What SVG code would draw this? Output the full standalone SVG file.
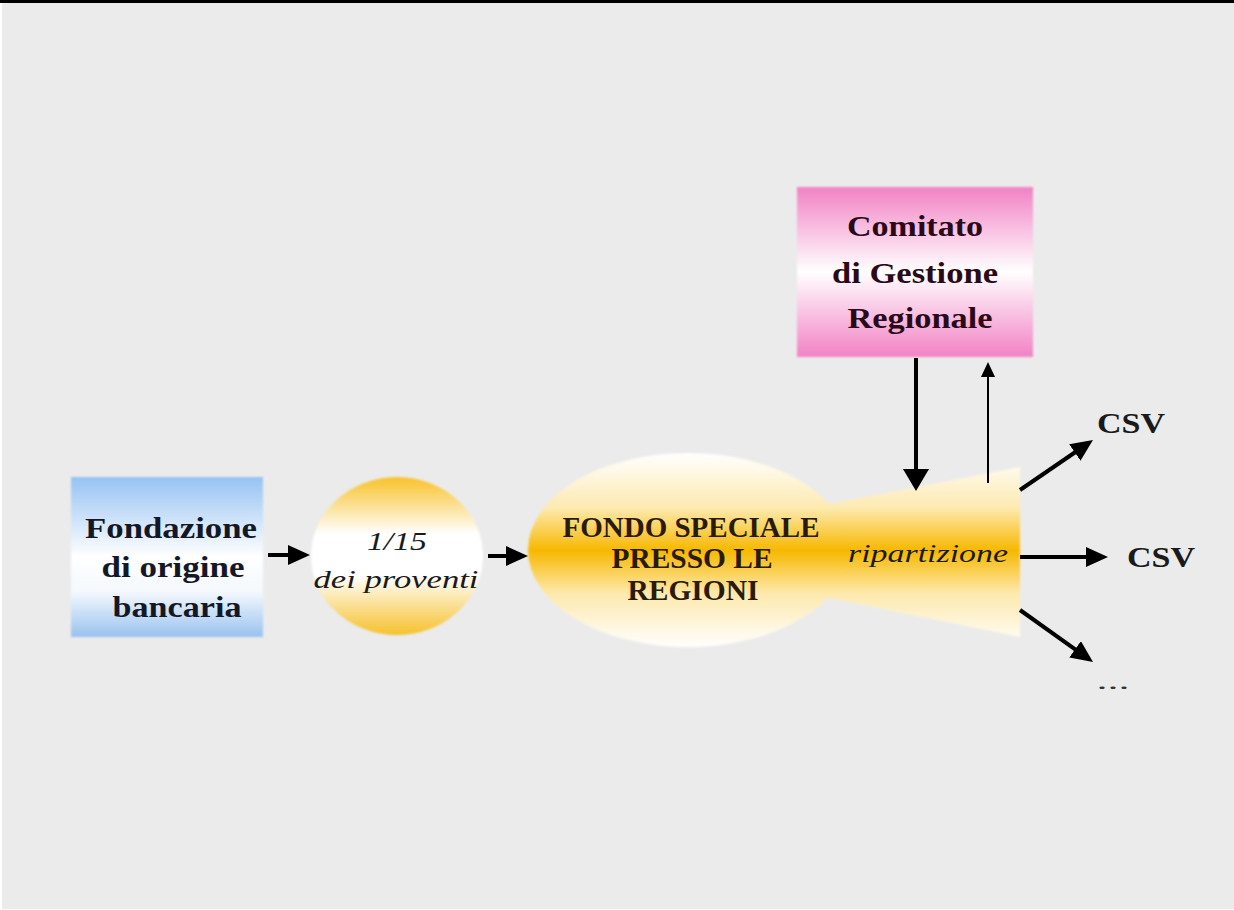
<svg xmlns="http://www.w3.org/2000/svg" width="1234" height="910" viewBox="0 0 1234 910">
<defs>
<linearGradient id="gBlue" x1="0" y1="0" x2="0" y2="1">
<stop offset="0" stop-color="#96c3f3"/>
<stop offset="0.5" stop-color="#ffffff"/>
<stop offset="0.72" stop-color="#f4f8fd"/>
<stop offset="1" stop-color="#98c2ef"/>
</linearGradient>
<linearGradient id="gCircle" x1="0" y1="0" x2="0" y2="1">
<stop offset="0" stop-color="#f8c22a"/>
<stop offset="0.36" stop-color="#ffffff"/>
<stop offset="0.62" stop-color="#ffffff"/>
<stop offset="1" stop-color="#f6c12c"/>
</linearGradient>
<linearGradient id="gFondo" gradientUnits="userSpaceOnUse" x1="0" y1="453" x2="0" y2="648">
<stop offset="0" stop-color="#ffffff"/>
<stop offset="0.28" stop-color="#fdeab0"/>
<stop offset="0.5" stop-color="#f7b800"/>
<stop offset="0.72" stop-color="#fde9ad"/>
<stop offset="1" stop-color="#ffffff"/>
</linearGradient>
<linearGradient id="gPink" x1="0" y1="0" x2="0" y2="1">
<stop offset="0" stop-color="#f282c4"/>
<stop offset="0.5" stop-color="#ffffff"/>
<stop offset="1" stop-color="#f282c4"/>
</linearGradient>
<filter id="soft" x="-5%" y="-5%" width="110%" height="110%"><feGaussianBlur stdDeviation="1.2"/></filter>
<marker id="ah" viewBox="0 0 22 20" refX="7" refY="10" markerWidth="22" markerHeight="20" markerUnits="userSpaceOnUse" orient="auto">
<path d="M0,0 L22,10 L0,20 z" fill="#000"/>
</marker>
<marker id="ahBig" viewBox="0 0 22 26" refX="6" refY="13" markerWidth="22" markerHeight="26" markerUnits="userSpaceOnUse" orient="auto">
<path d="M0,0 L22,13 L0,26 z" fill="#000"/>
</marker>
<marker id="ahThin" viewBox="0 0 15 14" refX="4" refY="7" markerWidth="15" markerHeight="14" markerUnits="userSpaceOnUse" orient="auto">
<path d="M0,0 L15,7 L0,14 z" fill="#000"/>
</marker>
</defs>
<style>
.bold{font-family:"Liberation Serif","Times New Roman",serif;font-weight:bold;font-size:29px;text-anchor:middle}
.ital{font-family:"Liberation Serif","Times New Roman",serif;font-style:italic;font-size:26px;text-anchor:middle;fill:#1a1a1a}
.thick{stroke:#000;stroke-width:4;fill:none;marker-end:url(#ah)}
</style>
<rect x="0" y="0" width="1234" height="910" fill="#ffffff"/>
<rect x="2" y="0" width="1232" height="909" fill="#ebebeb"/>
<rect x="0" y="0" width="1234" height="3" fill="#000"/>

<g id="fondazione">
<rect x="71" y="477" width="192" height="160" fill="url(#gBlue)" filter="url(#soft)"/>
<text class="bold" fill="#141826" font-size="30" x="171" y="538" textLength="172" lengthAdjust="spacingAndGlyphs">Fondazione</text>
<text class="bold" fill="#141826" font-size="30" x="173" y="577" textLength="143" lengthAdjust="spacingAndGlyphs">di origine</text>
<text class="bold" fill="#141826" font-size="30" x="177" y="617" textLength="129" lengthAdjust="spacingAndGlyphs">bancaria</text>
</g>

<g id="proventi">
<ellipse cx="397" cy="556" rx="86" ry="79" fill="url(#gCircle)" filter="url(#soft)"/>
<text class="ital" x="397" y="550" textLength="60" lengthAdjust="spacingAndGlyphs">1/15</text>
<text class="ital" x="396" y="588" textLength="165" lengthAdjust="spacingAndGlyphs">dei proventi</text>
</g>

<g id="fondo">
<path d="M 820 506 L 1020 467 L 1020 637 L 820 596 Z" fill="url(#gFondo)" filter="url(#soft)"/>
<ellipse cx="688" cy="550" rx="160" ry="97" fill="url(#gFondo)" filter="url(#soft)"/>
<text class="bold" fill="#2a1a08" x="691" y="537" textLength="257" lengthAdjust="spacingAndGlyphs">FONDO SPECIALE</text>
<text class="bold" fill="#2a1a08" x="692" y="568" textLength="161" lengthAdjust="spacingAndGlyphs">PRESSO LE</text>
<text class="bold" fill="#2a1a08" x="693" y="600" textLength="131" lengthAdjust="spacingAndGlyphs">REGIONI</text>
<text class="ital" x="928" y="562" textLength="160" lengthAdjust="spacingAndGlyphs">ripartizione</text>
</g>

<g id="comitato">
<rect x="797" y="187" width="236" height="170" fill="url(#gPink)" filter="url(#soft)"/>
<text class="bold" fill="#2a0a18" x="915" y="236" textLength="136" lengthAdjust="spacingAndGlyphs">Comitato</text>
<text class="bold" fill="#2a0a18" x="915" y="283" textLength="166" lengthAdjust="spacingAndGlyphs">di Gestione</text>
<text class="bold" fill="#2a0a18" x="920" y="328" textLength="145" lengthAdjust="spacingAndGlyphs">Regionale</text>
</g>

<g id="csv1"><text class="bold" fill="#1a1a1a" x="1131" y="433" textLength="68" lengthAdjust="spacingAndGlyphs">CSV</text></g>
<g id="csv2"><text class="bold" fill="#1a1a1a" x="1161" y="567" textLength="68" lengthAdjust="spacingAndGlyphs">CSV</text></g>
<g id="dots"><text fill="#333" font-family="Liberation Serif, serif" font-size="22" text-anchor="middle" x="1113" y="689" textLength="33" lengthAdjust="spacingAndGlyphs">...</text></g>

<g id="connectors">
<line class="thick" x1="268" y1="555" x2="295" y2="555"/>
<line class="thick" x1="488" y1="556" x2="513" y2="556"/>
<line x1="916" y1="358" x2="916" y2="475" stroke="#000" stroke-width="4" marker-end="url(#ahBig)"/>
<line x1="988" y1="483" x2="988" y2="373" stroke="#000" stroke-width="2" marker-end="url(#ahThin)"/>
<line class="thick" x1="1020" y1="490" x2="1080.6" y2="448.5"/>
<line class="thick" x1="1020" y1="557" x2="1093" y2="557"/>
<line class="thick" x1="1020" y1="610" x2="1080.8" y2="653.3"/>
</g>
</svg>
